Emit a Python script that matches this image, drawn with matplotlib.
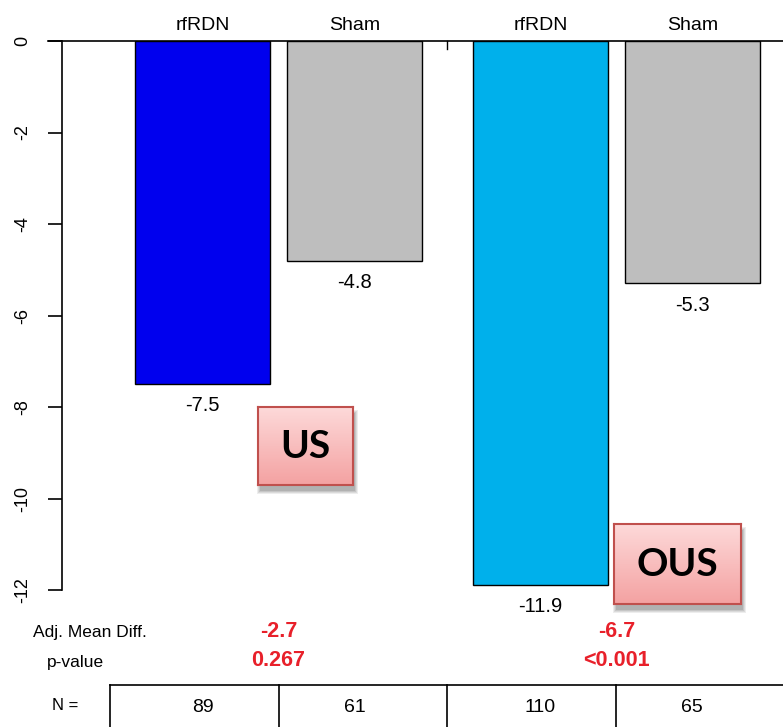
import matplotlib.pyplot as plt
import matplotlib.transforms as mtransforms
from matplotlib.colors import LinearSegmentedColormap
from matplotlib.patches import Rectangle
from matplotlib.lines import Line2D
import numpy as np

plt.rcParams['font.family'] = ['Liberation Sans', 'DejaVu Sans']

# data
groups = ['US', 'OUS']
arms = ['rfRDN', 'Sham', 'rfRDN', 'Sham']
means = [-7.5, -4.8, -11.9, -5.3]
bar_colors = ['#0000ee', '#bebebe', '#00b0eb', '#bebebe']
n_pts = [89, 61, 110, 65]
adj_diff = ['-2.7', '-6.7']
p_vals = ['0.267', '<0.001']
yticks = [0, -2, -4, -6, -8, -10, -12]

W, H = 783, 727
fig = plt.figure(figsize=(W / 100, H / 100), dpi=100)


def fx(px):
    return px / W


def fy(py):
    return 1 - py / H


# bar layout (R barplot style: width 1, small gap in group, bigger between)
xpos = np.array([0, 1.125, 2.5, 3.625])
ax = fig.add_axes([fx(62), fy(590), fx(783) - fx(62), fy(41) - fy(590)])
ax.set_xlim(-1.0407, 4.2963)
ax.set_ylim(-12, 0)
ax.bar(xpos, means, width=1.0, color=bar_colors, edgecolor='black', linewidth=1.0)

for s in ['top', 'right', 'bottom']:
    ax.spines[s].set_visible(False)
ax.spines['left'].set_bounds(-12, 0)
ax.spines['left'].set_linewidth(1.2)
ax.set_xticks([])
ax.set_yticks(yticks)
ax.set_yticklabels([str(t) for t in yticks], rotation=90, va='center')
ax.tick_params(axis='y', length=10, width=1.2, labelsize=13, pad=12)

# zero line running across the top
ax.plot([-14 / 721, 1], [1, 1], transform=ax.transAxes, color='black',
        lw=1.2, clip_on=False)
mid = (xpos[1] + xpos[2]) / 2
ax.plot([mid, mid], [0, -0.18], color='black', lw=1.0, clip_on=False)

# labels for arms and bar values
for x, arm, m in zip(xpos, arms, means):
    ax.annotate(arm, (x, 0), xytext=(0, 11.5), textcoords='offset points',
                ha='center', va='center', fontsize=14, annotation_clip=False)
    ax.annotate(f'{m}', (x, m), xytext=(0, -15.5), textcoords='offset points',
                ha='center', va='center', fontsize=14.5, annotation_clip=False)

# stats under the plot
centers = [(xpos[0] + xpos[1]) / 2, (xpos[2] + xpos[3]) / 2]
red = '#e8202a'
for c, d, p in zip(centers, adj_diff, p_vals):
    ax.annotate(d, (c, -12), xytext=(0, -30), textcoords='offset points',
                ha='center', va='center', fontsize=15.5, fontweight='bold',
                color=red, annotation_clip=False)
    ax.annotate(p, (c, -12), xytext=(0, -51), textcoords='offset points',
                ha='center', va='center', fontsize=15.5, fontweight='bold',
                color=red, annotation_clip=False)

fig.text(fx(33), fy(632), 'Adj. Mean Diff.', ha='left', va='center', fontsize=12.5)
fig.text(fx(47), fy(663), 'p-value', ha='left', va='center', fontsize=12.5)
fig.text(fx(52), fy(705), 'N =', ha='left', va='center', fontsize=12)

# N table
tr = mtransforms.blended_transform_factory(ax.transData, fig.transFigure)
half = (centers[1] - centers[0]) / 2
edges = [centers[0] - half, centers[0], (xpos[1] + xpos[2]) / 2, centers[1]]
fig.add_artist(Line2D([edges[0], 4.2963], [fy(685), fy(685)], transform=tr,
                      color='black', lw=1.2))
for e in edges:
    fig.add_artist(Line2D([e, e], [fy(685), 0], transform=tr, color='black', lw=1.2))
for x, n in zip(xpos, n_pts):
    fig.text(x, fy(708), str(n), transform=tr, ha='center', va='center', fontsize=14)

# region callout boxes
grad = LinearSegmentedColormap.from_list('pink', ['#fdd9d9', '#f4a2a2'])


def callout(x0, y0, x1, y1, label, fs):
    for i, a in enumerate([0.10, 0.12, 0.15, 0.18]):
        k = 3 - i
        fig.add_artist(Rectangle((fx(x0 + 2 - k), fy(y1 + 6 + k)),
                                 fx(x1 - x0 + 2 * k), (y1 - y0 + 2 * k) / H,
                                 facecolor='#555555', alpha=a, edgecolor='none',
                                 zorder=0.5))
    bax = fig.add_axes([fx(x0), fy(y1), fx(x1 - x0), (y1 - y0) / H])
    bax.set_zorder(5)
    bax.imshow(np.linspace(0, 1, 64).reshape(-1, 1), cmap=grad, aspect='auto',
               extent=[0, 1, 0, 1], origin='upper')
    bax.set_xticks([])
    bax.set_yticks([])
    for s in bax.spines.values():
        s.set_color('#c0504d')
        s.set_linewidth(1.5)
    bax.text(0.5, 0.5, label, ha='center', va='center', fontsize=fs,
             fontweight='bold', family=['Lato', 'DejaVu Sans'], color='black',
             transform=bax.transAxes)


callout(258, 407, 353, 485, groups[0], 28)
callout(614, 524, 741, 604, groups[1], 28)

fig.savefig('out.png', dpi=100)
